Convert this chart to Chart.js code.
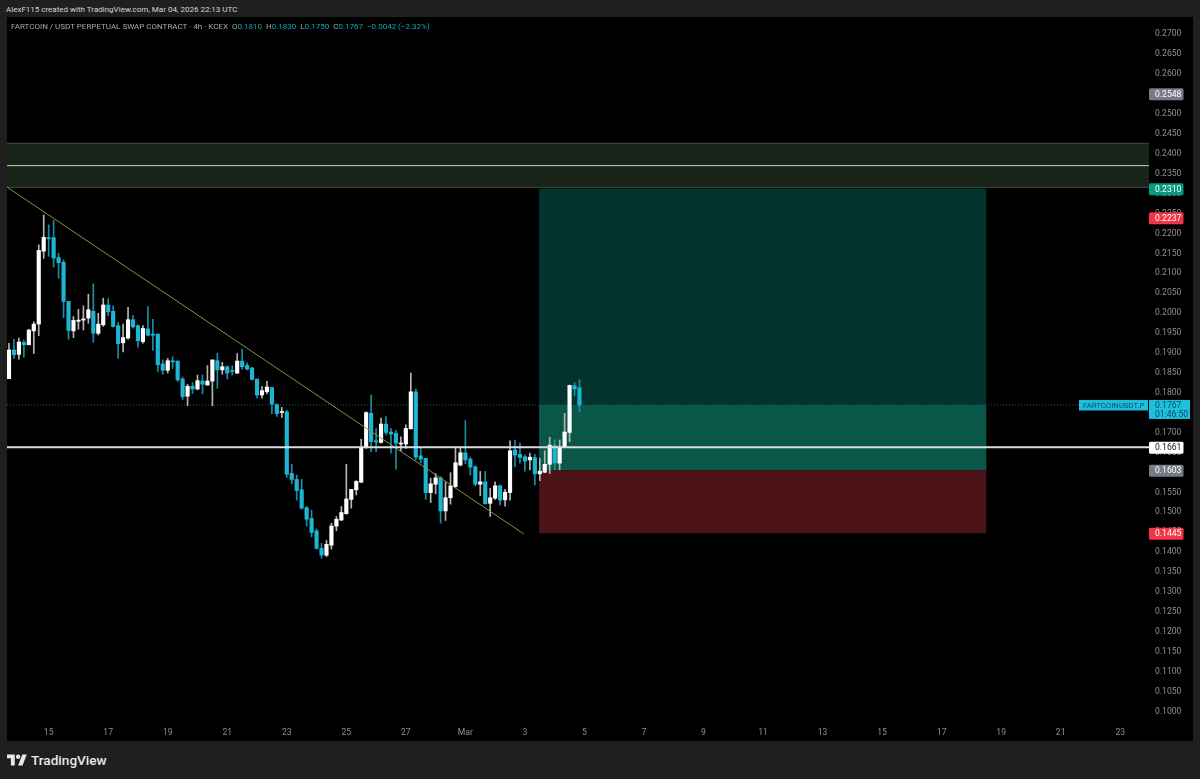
<!DOCTYPE html>
<html>
<head>
<meta charset="utf-8">
<title>FARTCOIN / USDT</title>
<script src="https://cdn.jsdelivr.net/npm/chart.js@4"></script>
<style>
	html, body { margin: 0; padding: 0; width: 1200px; height: 779px; overflow: hidden; background: #1f1f1f; font-family: Roboto, sans-serif; }
	#pane { position: absolute; left: 7px; top: 17px; width: 1186px; height: 724px; background: #000; }
	#created { position: absolute; left: 6px; top: 3px; font-size: 8px; line-height: 14px; color: #d6d6d6; white-space: nowrap; }
	#legend { position: absolute; left: 11px; top: 20px; font-size: 8px; line-height: 14px; color: #a8a8a8; white-space: nowrap; }
	#legend b { font-weight: normal; color: #14a3b8; }
	#legend i { font-style: normal; margin-left: 2px; }
	#brand { position: absolute; left: 7px; top: 750px; height: 20px; display: flex; align-items: center; color: #e8e8e8; font-size: 13.6px; font-weight: 500; }
	#brand svg { width: 20px; height: 16px; margin-right: 4px; fill: #e8e8e8; }
</style>
</head>
<body>
<div id="created">AlexF115 created with TradingView.com, Mar 04, 2026 22:13 UTC</div>
<div id="pane"><canvas id="chart" width="1186" height="724"></canvas></div>
<div id="legend">FARTCOIN / USDT PERPETUAL SWAP CONTRACT · 4h · KCEX <i>O</i><b>0.1810</b> <i>H</i><b>0.1830</b> <i>L</i><b>0.1750</b> <i>C</i><b>0.1767</b> <i></i><b>−0.0042 (−2.32%)</b></div>
<div id="brand"><svg viewBox="0 0 36 28"><path d="M14 24H7V11H0V4h14v20zM28 24h-8l7.5-20h8L28 24z"/><circle cx="20" cy="8" r="4"/></svg>TradingView</div>
<script>
const opens = [
	0.1833, 0.1905, 0.1894, 0.1924, 0.1918, 0.1953, 0.1970, 0.2153, 0.2187, 0.2187, 0.2137, 0.2125,
	0.2027, 0.1953, 0.1977, 0.1980, 0.1985, 0.2002, 0.1947, 0.1968, 0.2018, 0.2002, 0.1966, 0.1923,
	0.1935, 0.1981, 0.1966, 0.1926, 0.1958, 0.1945, 0.1945, 0.1870, 0.1854, 0.1878, 0.1877, 0.1832,
	0.1789, 0.1814, 0.1807, 0.1827, 0.1817, 0.1827, 0.1878, 0.1855, 0.1863, 0.1853, 0.1847, 0.1877,
	0.1866, 0.1860, 0.1832, 0.1792, 0.1800, 0.1811, 0.1768, 0.1748, 0.1750, 0.1595, 0.1580, 0.1554,
	0.1509, 0.1482, 0.1451, 0.1407, 0.1390, 0.1415, 0.1463, 0.1478, 0.1494, 0.1530, 0.1554, 0.1573,
	0.1661, 0.1746, 0.1677, 0.1673, 0.1719, 0.1699, 0.1696, 0.1669, 0.1669, 0.1707, 0.1800, 0.1639,
	0.1633, 0.1547, 0.1568, 0.1584, 0.1501, 0.1534, 0.1562, 0.1616, 0.1647, 0.1631, 0.1612, 0.1568,
	0.1574, 0.1520, 0.1533, 0.1564, 0.1529, 0.1547, 0.1654, 0.1643, 0.1637, 0.1629, 0.1635, 0.1594,
	0.1598, 0.1618, 0.1666, 0.1621, 0.1661, 0.1698, 0.1815, 0.1810
];
const highs = [
	0.1922, 0.1932, 0.1935, 0.1930, 0.1957, 0.1976, 0.2169, 0.2244, 0.2219, 0.2230, 0.2148, 0.2131,
	0.2027, 0.1989, 0.2007, 0.2016, 0.2045, 0.2071, 0.1997, 0.2035, 0.2034, 0.2016, 0.1974, 0.1970,
	0.2012, 0.1992, 0.1968, 0.1966, 0.2014, 0.1982, 0.1945, 0.1880, 0.1884, 0.1888, 0.1878, 0.1837,
	0.1819, 0.1823, 0.1842, 0.1842, 0.1866, 0.1880, 0.1897, 0.1874, 0.1865, 0.1865, 0.1896, 0.1907,
	0.1873, 0.1861, 0.1832, 0.1813, 0.1826, 0.1811, 0.1770, 0.1761, 0.1754, 0.1618, 0.1591, 0.1580,
	0.1512, 0.1503, 0.1456, 0.1420, 0.1427, 0.1470, 0.1487, 0.1512, 0.1618, 0.1555, 0.1577, 0.1681,
	0.1750, 0.1792, 0.1708, 0.1734, 0.1738, 0.1708, 0.1703, 0.1687, 0.1717, 0.1847, 0.1807, 0.1661,
	0.1633, 0.1583, 0.1595, 0.1587, 0.1574, 0.1597, 0.1661, 0.1658, 0.1728, 0.1636, 0.1614, 0.1600,
	0.1600, 0.1558, 0.1574, 0.1566, 0.1555, 0.1677, 0.1679, 0.1671, 0.1641, 0.1646, 0.1643, 0.1633,
	0.1652, 0.1686, 0.1679, 0.1679, 0.1746, 0.1817, 0.1823, 0.1830
];
const lows = [
	0.1833, 0.1884, 0.1882, 0.1887, 0.1918, 0.1896, 0.1941, 0.2135, 0.2140, 0.2113, 0.2085, 0.1986,
	0.1932, 0.1936, 0.1957, 0.1955, 0.1972, 0.1924, 0.1943, 0.1964, 0.1991, 0.1962, 0.1884, 0.1900,
	0.1932, 0.1960, 0.1912, 0.1922, 0.1940, 0.1904, 0.1851, 0.1844, 0.1847, 0.1859, 0.1826, 0.1781,
	0.1765, 0.1796, 0.1805, 0.1795, 0.1817, 0.1765, 0.1809, 0.1844, 0.1832, 0.1842, 0.1846, 0.1857,
	0.1855, 0.1830, 0.1784, 0.1784, 0.1795, 0.1745, 0.1738, 0.1736, 0.1585, 0.1569, 0.1528, 0.1505,
	0.1463, 0.1436, 0.1405, 0.1382, 0.1386, 0.1405, 0.1451, 0.1477, 0.1493, 0.1508, 0.1541, 0.1572,
	0.1658, 0.1650, 0.1650, 0.1671, 0.1692, 0.1646, 0.1606, 0.1652, 0.1658, 0.1707, 0.1629, 0.1621,
	0.1530, 0.1522, 0.1544, 0.1470, 0.1477, 0.1518, 0.1560, 0.1614, 0.1619, 0.1591, 0.1564, 0.1539,
	0.1518, 0.1487, 0.1530, 0.1516, 0.1513, 0.1528, 0.1612, 0.1621, 0.1601, 0.1604, 0.1566, 0.1577,
	0.1597, 0.1595, 0.1604, 0.1604, 0.1661, 0.1675, 0.1790, 0.1750
];
const closes = [
	0.1905, 0.1893, 0.1925, 0.1918, 0.1955, 0.1970, 0.2155, 0.2188, 0.2184, 0.2136, 0.2124, 0.2027,
	0.1954, 0.1979, 0.1980, 0.1983, 0.2006, 0.1947, 0.1970, 0.2018, 0.2001, 0.1964, 0.1921, 0.1936,
	0.1981, 0.1963, 0.1928, 0.1959, 0.1942, 0.1942, 0.1868, 0.1854, 0.1878, 0.1875, 0.1830, 0.1788,
	0.1814, 0.1807, 0.1828, 0.1819, 0.1827, 0.1880, 0.1855, 0.1863, 0.1847, 0.1851, 0.1877, 0.1863,
	0.1857, 0.1831, 0.1792, 0.1803, 0.1812, 0.1769, 0.1745, 0.1750, 0.1593, 0.1580, 0.1552, 0.1508,
	0.1480, 0.1447, 0.1407, 0.1390, 0.1417, 0.1463, 0.1480, 0.1497, 0.1531, 0.1555, 0.1575, 0.1661,
	0.1748, 0.1675, 0.1674, 0.1719, 0.1698, 0.1694, 0.1671, 0.1671, 0.1708, 0.1800, 0.1636, 0.1631,
	0.1547, 0.1569, 0.1584, 0.1501, 0.1534, 0.1564, 0.1622, 0.1647, 0.1629, 0.1611, 0.1568, 0.1574,
	0.1519, 0.1534, 0.1564, 0.1528, 0.1548, 0.1652, 0.1641, 0.1635, 0.1626, 0.1636, 0.1594, 0.1601,
	0.1618, 0.1666, 0.1621, 0.1662, 0.1699, 0.1816, 0.1807, 0.1767
];

const dateLabels = ["15", "17", "19", "21", "23", "25", "27", "Mar", "3", "5", "7", "9", "11", "13", "15", "17", "19", "21", "23"];
const dateSlots = [8, 20, 32, 44, 56, 68, 80, 92, 104, 116, 128, 140, 152, 164, 176, 188, 200, 212, 224];
const priceTicks = [
	0.2700, 0.2650, 0.2600, 0.2550, 0.2500, 0.2450, 0.2400, 0.2350, 0.2300, 0.2250, 0.2200, 0.2150,
	0.2100, 0.2050, 0.2000, 0.1950, 0.1900, 0.1850, 0.1800, 0.1750, 0.1700, 0.1650, 0.1600, 0.1550,
	0.1500, 0.1450, 0.1400, 0.1350, 0.1300, 0.1250, 0.1200, 0.1150, 0.1100, 0.1050, 0.1000
];

// levels drawn on the chart
const bandTop = 0.2425;
const bandMid = 0.2369;
const bandBottom = 0.2312;
const targetPrice = 0.2310;
const entryPrice = 0.1603;
const stopPrice = 0.1445;
const lastPrice = 0.1767;
const supportPrice = 0.1661;
const alertPrice = 0.2548;
const sellPrice = 0.2237;
const positionSlots = [106.85, 197];
const trendSlots = [-0.4, 103.8];
const trendPrices = [0.2314, 0.1443];

const xMin = -0.4;
const xMax = 229.8;
const yMin = 0.09686;
const yMax = 0.27409;
// the axis labels sit one pixel under their price, so the visible axis is shifted a little
const labelShift = 0.00025;

const upColor = "#ffffff";
const downColor = "#1cb5d3";

const bodies = opens.map((o, i) => ({ x: i, y: [o, closes[i]] }));
const wicks = lows.map((l, i) => ({ x: i, y: [l, highs[i]] }));
const isUp = opens.map((o, i) => closes[i] >= o);

function tag(ctx, area, y, text, bg, fg) {
	ctx.fillStyle = bg;
	ctx.beginPath();
	ctx.roundRect(area.right, y - 5.5, 34.5, 12, 1.5);
	ctx.fill();
	ctx.fillStyle = fg;
	ctx.fillText(text, area.right + 6, y + 1);
}

const levelsPlugin = {
	id: "levels",
	beforeDatasetsDraw(chart) {
		const ctx = chart.ctx;
		const area = chart.chartArea;
		const x = chart.scales.x;
		const y = chart.scales.y;
		const left = x.getPixelForValue(positionSlots[0]);
		const right = x.getPixelForValue(positionSlots[1]);

		function box(top, bottom, color) {
			ctx.fillStyle = color;
			ctx.fillRect(left, y.getPixelForValue(top), right - left, y.getPixelForValue(bottom) - y.getPixelForValue(top));
		}
		box(targetPrice, lastPrice, "#04332e");
		box(lastPrice, entryPrice, "#0a574a");
		box(entryPrice, stopPrice, "#4b1317");

		// zone at the top
		const t = y.getPixelForValue(bandTop);
		const b = y.getPixelForValue(bandBottom);
		const m = y.getPixelForValue(bandMid);
		ctx.fillStyle = "#18241a";
		ctx.fillRect(area.left, t, area.right - area.left, b - t);
		ctx.fillStyle = "#3d4a38";
		ctx.fillRect(area.left, t, area.right - area.left, 1);
		ctx.fillRect(area.left, b - 1, area.right - area.left, 1);
		ctx.fillStyle = "#c4d2b4";
		ctx.fillRect(area.left, m, area.right - area.left, 1);
	},
	afterDraw(chart) {
		const ctx = chart.ctx;
		const area = chart.chartArea;
		const y = chart.scales.y;
		ctx.save();
		ctx.font = "8.6px Roboto";
		ctx.textAlign = "left";
		ctx.textBaseline = "middle";

		tag(ctx, area, y.getPixelForValue(alertPrice), alertPrice.toFixed(4), "#787b86", "#ffffff");
		tag(ctx, area, y.getPixelForValue(targetPrice), targetPrice.toFixed(4), "#089981", "#ffffff");
		tag(ctx, area, y.getPixelForValue(sellPrice), sellPrice.toFixed(4), "#f23645", "#ffffff");
		tag(ctx, area, y.getPixelForValue(supportPrice), supportPrice.toFixed(4), "#ffffff", "#131722");
		tag(ctx, area, y.getPixelForValue(entryPrice), entryPrice.toFixed(4), "#787b86", "#ffffff");
		tag(ctx, area, y.getPixelForValue(stopPrice), stopPrice.toFixed(4), "#f23645", "#ffffff");

		// last price with the countdown and symbol name
		const ly = y.getPixelForValue(lastPrice);
		ctx.fillStyle = "#1cc0de";
		ctx.fillRect(area.right, ly - 5, 41, 19);
		ctx.fillRect(area.right - 70, ly - 5, 69, 10.5);
		ctx.fillStyle = "#0b4a5c";
		ctx.fillText(lastPrice.toFixed(4), area.right + 6, ly + 1);
		ctx.fillText("01:46:50", area.right + 6, ly + 9.5);
		ctx.font = "7.8px Roboto";
		ctx.fillText("FARTCOINUSDT.P", area.right - 66, ly + 1);
		ctx.restore();
	}
};

new Chart("chart", {
	type: "bar",
	plugins: [levelsPlugin],
	data: {
		datasets: [
			{
				type: "line",
				data: [{ x: trendSlots[0], y: trendPrices[0] }, { x: trendSlots[1], y: trendPrices[1] }],
				borderColor: "#8e8f42",
				borderWidth: 1,
				pointRadius: 0,
				order: 1
			},
			{
				type: "line",
				data: [{ x: xMin, y: supportPrice }, { x: xMax, y: supportPrice }],
				borderColor: "#dcdcdc",
				borderWidth: 2,
				pointRadius: 0,
				order: 0
			},
			{
				type: "line",
				data: [{ x: xMin, y: lastPrice }, { x: xMax, y: lastPrice }],
				borderColor: "#15606e",
				borderWidth: 1,
				borderDash: [1, 2],
				pointRadius: 0,
				order: 5
			},
			{
				data: wicks,
				backgroundColor: isUp.map(u => u ? "#b4b4b4" : "#1a8ea6"),
				barThickness: 1,
				grouped: false,
				order: 4
			},
			{
				data: bodies,
				backgroundColor: isUp.map(u => u ? upColor : downColor),
				barThickness: 3.5,
				minBarLength: 1,
				grouped: false,
				order: 3
			}
		]
	},
	options: {
		responsive: false,
		animation: false,
		events: [],
		layout: { padding: 0 },
		plugins: {
			legend: { display: false },
			tooltip: { enabled: false }
		},
		scales: {
			x: {
				type: "linear",
				offset: false,
				min: xMin,
				max: xMax,
				grid: { display: false, drawTicks: false },
				border: { display: false },
				ticks: {
					autoSkip: false,
					maxRotation: 0,
					padding: 5,
					color: "#8f8f8f",
					font: { family: "Roboto", size: 8.6 },
					callback: v => dateLabels[dateSlots.indexOf(v)]
				},
				afterBuildTicks(s) {
					s.ticks = dateSlots.map(v => ({ value: v }));
				},
				afterFit(s) {
					s.height = 18;
					s.paddingLeft = 0;
					s.paddingRight = 0;
				}
			},
			y: {
				display: false,
				min: yMin,
				max: yMax
			},
			priceAxis: {
				axis: "y",
				position: "right",
				min: yMin + labelShift,
				max: yMax + labelShift,
				grid: { display: false, drawTicks: false },
				border: { display: false },
				ticks: {
					autoSkip: false,
					padding: 6,
					color: "#8f8f8f",
					font: { family: "Roboto", size: 8.6 },
					callback: v => v.toFixed(4)
				},
				afterBuildTicks(s) {
					s.ticks = priceTicks.map(v => ({ value: v }));
				},
				afterFit(s) {
					s.width = 44;
					s.paddingTop = 0;
					s.paddingBottom = 0;
				}
			}
		}
	}
});
</script>
</body>
</html>
